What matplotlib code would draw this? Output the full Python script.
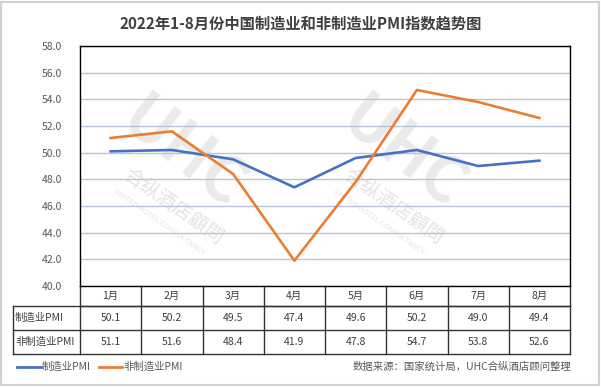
import matplotlib.pyplot as plt

plt.rcParams['font.family'] = ['Noto Sans CJK SC', 'DejaVu Sans']

# data
months = ['1月', '2月', '3月', '4月', '5月', '6月', '7月', '8月']
manu = [50.1, 50.2, 49.5, 47.4, 49.6, 50.2, 49.0, 49.4]
non_manu = [51.1, 51.6, 48.4, 41.9, 47.8, 54.7, 53.8, 52.6]
series_names = ['制造业PMI', '非制造业PMI']
colors = ['#4472C4', '#ED7D31']

fig = plt.figure(figsize=(6.01, 3.87), dpi=100)
# light frame around the picture
fig.patches.append(plt.Rectangle((0.002, 0.004), 0.995, 0.992, transform=fig.transFigure,
                                 fill=False, edgecolor='#D0D0D0', lw=1.5))

ax = fig.add_axes([80 / 601, 1 - 286 / 387, 490 / 601, 240 / 387])
x = range(len(months))

# watermark
for cx in (0.19, 0.64):
    ax.text(cx + 0.02, 0.55, 'UHC', transform=ax.transAxes, fontsize=46, fontweight='bold',
            style='italic', color='#EAEAEA', rotation=-38, ha='center', va='center', zorder=0)
    ax.text(cx, 0.33, '合纵酒店顧問', transform=ax.transAxes, fontsize=14,
            color='#E4E4E4', rotation=-35, ha='center', va='center', zorder=0)
    ax.text(cx - 0.03, 0.27, 'UNITED HOTEL CONSULTANCY', transform=ax.transAxes, fontsize=5.5,
            color='#E4E4E4', rotation=-35, ha='center', va='center', zorder=0)

ax.plot(x, manu, color=colors[0], lw=1.9, zorder=3)
ax.plot(x, non_manu, color=colors[1], lw=1.9, zorder=3)

ax.set_xlim(-0.5, len(months) - 0.5)
ax.set_ylim(40, 58)
ax.set_yticks([40 + 2 * i for i in range(10)])
ax.set_yticklabels([f'{40 + 2 * i:.1f}' for i in range(10)], fontsize=7.5, color='#595959')
ax.tick_params(axis='y', length=0, pad=13)
ax.set_xticks([])
ax.grid(axis='y', color='#B8C4D9', lw=1)
ax.set_axisbelow(True)
for s in ax.spines.values():
    s.set_color('#000000')
    s.set_linewidth(1)

# data table under the plot (axes fraction coordinates)
tr = ax.transAxes
edge = '#333333'
n = len(months)
x_lab = -67 / 490
y_hdr = -20 / 240
y_r1 = -44 / 240
y_r2 = -68 / 240
txt = dict(transform=tr, fontsize=7.5, color='#404040', va='center', clip_on=False)
line = dict(transform=tr, color=edge, lw=1, clip_on=False)
# horizontal rules
ax.plot([0, 1], [y_hdr, y_hdr], **line)
for yy in (y_hdr, y_r1, y_r2):
    ax.plot([x_lab, 1], [yy, yy], **line)
# vertical rules
ax.plot([x_lab, x_lab], [y_hdr, y_r2], **line)
for j in range(n + 1):
    ax.plot([j / n, j / n], [0, y_r2], **line)
for j, m in enumerate(months):
    ax.text((j + 0.5) / n, y_hdr / 2, m, ha='center', **txt)
for (name, vals), (y0, y1) in zip(zip(series_names, [manu, non_manu]), [(y_hdr, y_r1), (y_r1, y_r2)]):
    ax.text(x_lab + 0.004, (y0 + y1) / 2, name, ha='left', **txt)
    for j, v in enumerate(vals):
        ax.text((j + 0.5) / n, (y0 + y1) / 2, f'{v:.1f}', ha='center', **txt)

fig.text(0.5, 1 - 24 / 387, '2022年1-8月份中国制造业和非制造业PMI指数趋势图', ha='center', va='center',
         fontsize=11, fontweight='bold', color='#404040')

# legend
ly = 1 - 367 / 387
fig.add_artist(plt.Line2D([17 / 601, 41 / 601], [ly, ly], color=colors[0], lw=2))
fig.text(42 / 601, ly, series_names[0], va='center', fontsize=7.5, color='#595959')
fig.add_artist(plt.Line2D([99 / 601, 122 / 601], [ly, ly], color=colors[1], lw=2))
fig.text(123 / 601, ly, series_names[1], va='center', fontsize=7.5, color='#595959')
fig.text(571 / 601, ly, '数据来源：国家统计局，UHC合纵酒店顾问整理', ha='right', va='center',
         fontsize=7.5, color='#595959')

fig.savefig('out.png', dpi=100)
